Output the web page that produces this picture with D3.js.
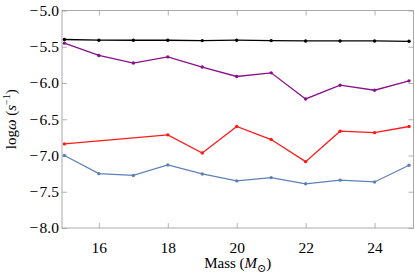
<!DOCTYPE html>
<html>
  <head>
    <script src="https://d3js.org/d3.v7.min.js"></script>
    <style>
      body { margin: 0; background: white; }
      text { font-family: "Liberation Serif", "DejaVu Serif", serif; fill: #000; }
    </style>
  </head>
  <body>
    <script>
      const masses = [15, 16, 17, 18, 19, 20, 21, 22, 23, 24, 25];
      const redMasses = [15, 18, 19, 20, 21, 22, 23, 24, 25];

      const blackValues = [-5.40, -5.41, -5.41, -5.41, -5.415, -5.41, -5.415, -5.42, -5.42, -5.42, -5.425];
      const purpleValues = [-5.45, -5.62, -5.725, -5.64, -5.78, -5.91, -5.86, -6.22, -6.03, -6.10, -5.97];
      const redValues = [-6.84, -6.715, -6.965, -6.60, -6.78, -7.085, -6.665, -6.685, -6.60];
      const blueValues = [-7.0, -7.25, -7.275, -7.13, -7.255, -7.35, -7.305, -7.39, -7.34, -7.365, -7.135];

      const xMajor = [16, 18, 20, 22, 24];
      const yMajor = [-8.0, -7.5, -7.0, -6.5, -6.0, -5.5, -5.0];

      const series = [
        { xs: masses, ys: blackValues, color: '#000000' },
        { xs: masses, ys: purpleValues, color: '#8a0f8a' },
        { xs: redMasses, ys: redValues, color: '#ff1a1a' },
        { xs: masses, ys: blueValues, color: '#5e81b5' }
      ];

      const w = 415;
      const h = 277;
      const margin = { left: 62, right: 1.5, top: 10.5, bottom: 49 };

      const svg = d3.select('body')
                    .append('svg')
                    .attr('width', w)
                    .attr('height', h);

      const x = d3.scaleLinear()
                  .domain([14.93, 25.13])
                  .range([margin.left, w - margin.right]);
      const y = d3.scaleLinear()
                  .domain([-8, -5])
                  .range([h - margin.bottom, margin.top]);

      const xMinor = d3.range(15, 25.01, 0.5).filter(v => !xMajor.includes(v));
      const yMinor = d3.range(-8, -4.99, 0.1).map(v => +v.toFixed(1)).filter(v => !yMajor.includes(v));

      // minus sign with a hair space, like the original's wide minus
      const fmt = d => (d < 0 ? '\u2212\u200a' : '') + Math.abs(d).toFixed(1);

      function frameAxis(axisFn, scale, major, minor, transform, labels) {
        const g = svg.append('g').attr('transform', transform);
        g.call(axisFn(scale).tickValues(minor).tickSize(-2.5).tickFormat(''));
        g.call(axisFn(scale).tickValues(major).tickSize(-5).tickFormat(labels ? labels : ''));
        g.selectAll('.domain').remove();
        g.selectAll('line').attr('stroke', '#a0a0a0').attr('stroke-width', 0.8);
        return g;
      }

      const bottom = frameAxis(d3.axisBottom, x, xMajor, xMinor, `translate(0,${y(-8)})`, d => d);
      bottom.selectAll('text').attr('y', 14).attr('dy', '0.71em').style('font-size', '15.5px');
      frameAxis(d3.axisTop, x, xMajor, xMinor, `translate(0,${y(-5)})`, null);

      const left = frameAxis(d3.axisLeft, y, yMajor, yMinor, `translate(${x(14.93)},0)`, fmt);
      left.selectAll('text').attr('x', -3).style('font-size', '15.5px').attr('text-anchor', 'end');
      frameAxis(d3.axisRight, y, yMajor, yMinor, `translate(${x(25.13)},0)`, null);

      svg.append('rect')
         .attr('x', x(14.93))
         .attr('y', y(-5))
         .attr('width', x(25.13) - x(14.93))
         .attr('height', y(-8) - y(-5))
         .attr('fill', 'none')
         .attr('stroke', '#a0a0a0')
         .attr('stroke-width', 0.9);

      const line = d3.line().x(d => x(d[0])).y(d => y(d[1]));

      series.forEach(s => {
        const pts = s.xs.map((m, i) => [m, s.ys[i]]);
        svg.append('path')
           .datum(pts)
           .attr('d', line)
           .attr('fill', 'none')
           .attr('stroke', s.color)
           .attr('stroke-width', 1.3);
        svg.selectAll(null)
           .data(pts)
           .enter()
           .append('circle')
           .attr('cx', d => x(d[0]))
           .attr('cy', d => y(d[1]))
           .attr('r', 1.7)
           .attr('fill', s.color);
      });

      const xLabel = svg.append('text')
                        .attr('x', (x(14.93) + x(25.13)) / 2)
                        .attr('y', 268)
                        .attr('text-anchor', 'middle')
                        .style('font-size', '15px');
      xLabel.append('tspan').text('Mass (');
      xLabel.append('tspan').style('font-style', 'italic').text('M');
      xLabel.append('tspan').attr('dy', 4).style('font-size', '11px').text('\u2299');
      xLabel.append('tspan').attr('dy', -4).text(')');

      const yLabel = svg.append('text')
                        .attr('transform', `translate(16,${(y(-5) + y(-8)) / 2}) rotate(-90)`)
                        .attr('text-anchor', 'middle')
                        .style('font-size', '15px');
      yLabel.append('tspan').text('log');
      yLabel.append('tspan').style('font-style', 'italic').text('\u03c9');
      yLabel.append('tspan').text(' (');
      yLabel.append('tspan').style('font-style', 'italic').text('s');
      yLabel.append('tspan').attr('dy', -6).style('font-size', '10px').text('\u22121');
      yLabel.append('tspan').attr('dy', 6).text(')');
    </script>
  </body>
</html>
